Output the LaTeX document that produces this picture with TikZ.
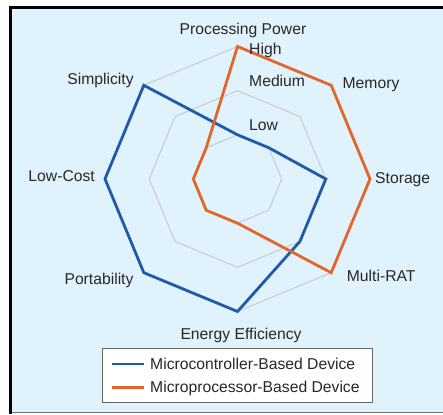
\documentclass[tikz,border=0pt]{standalone}
\usepackage{fontspec}
\setmainfont{Liberation Sans}
\definecolor{bgblue}{RGB}{224,242,252}
\definecolor{mcblue}{RGB}{31,90,166}
\definecolor{mporange}{RGB}{226,101,43}
\definecolor{gridgray}{RGB}{200,203,206}
\definecolor{txt}{RGB}{40,40,40}
\begin{document}
\begin{tikzpicture}[x=1pt,y=1pt,
  lab/.style={font=\fontsize{15.7}{18}\selectfont, text=txt, inner sep=0pt},
  gridline/.style={draw=gridgray, line width=1pt},
  mcline/.style={draw=mcblue, line width=2.8pt, line join=miter},
  mpline/.style={draw=mporange, line width=2.8pt, line join=miter},
  legendframe/.style={draw=black!60, line width=0.8pt, fill=white, inner sep=0pt}]
\useasboundingbox (0,0) rectangle (443,414);
\fill[white] (0,0) rectangle (443,414);
\fill[bgblue] (12,2) rectangle (443,405);
\fill[black] (9,405) rectangle (443,408);
\fill[black] (9,0) rectangle (12,408);
\draw[black!55, line width=0.8pt] (12,2) -- (443,2);

\begin{scope}[shift={(237.5,235)}]
  \foreach \r in {44.2,88.3,132.5}
    \draw[gridline] (90:\r)--(45:\r)--(0:\r)--(-45:\r)--(-90:\r)--(-135:\r)--(180:\r)--(135:\r)--cycle;
  \coordinate (b1) at (90:44.2);
  \coordinate (b2) at (45:44.2);
  \coordinate (b3) at (0:88.3);
  \coordinate (b4) at (-45:88.3);
  \coordinate (b5) at (-90:132.5);
  \coordinate (b6) at (-135:132.5);
  \coordinate (b7) at (180:132.5);
  \coordinate (b8) at (135:132.5);
  \coordinate (o1) at (90:132.5);
  \coordinate (o2) at (45:132.5);
  \coordinate (o3) at (0:132.5);
  \coordinate (o4) at (-45:132.5);
  \coordinate (o5) at (-90:44.2);
  \coordinate (o6) at (-135:44.2);
  \coordinate (o7) at (180:44.2);
  \coordinate (o8) at (135:44.2);
\end{scope}
\draw[mcline] (b1)--(b2)--(b3)--(b4)--(b5)--(b6)--(b7)--(b8)--cycle;
\draw[mpline] (o1)--(o2)--(o3)--(o4)--(o5)--(o6)--(o7)--(o8)--cycle;

\node[lab, anchor=base] (pp) at (243,379.5) {Processing Power};
\node[lab, anchor=base west] (high) at (249,359) {High};
\node[lab, anchor=base west] (med) at (249,327.3) {Medium};
\node[lab, anchor=base west] (low) at (249,283) {Low};
\node[lab, anchor=base] (simp) at (100.5,329) {Simplicity};
\node[lab, anchor=base] (mem) at (371,325.7) {Memory};
\node[lab, anchor=base west] (stor) at (375,230.7) {Storage};
\node[lab, anchor=base east] (lc) at (95,232) {Low-Cost};
\node[lab, anchor=base west] (mrat) at (346.7,132.5) {Multi-RAT};
\node[lab, anchor=base] (port) at (99,129) {Portability};
\node[lab, anchor=base] (ee) at (241,74.7) {Energy Efficiency};

\node[legendframe, minimum width=270pt, minimum height=54.4pt] (legend) at (237,38.5) {};
\coordinate (l1a) at (111.7,50);
\coordinate (l1b) at (144,50);
\coordinate (l2a) at (111.7,26.7);
\coordinate (l2b) at (144,26.7);
\draw[mcline] (l1a) -- (l1b);
\draw[mpline] (l2a) -- (l2b);
\node[lab, anchor=base west] (leg1) at (150,44.7) {Microcontroller-Based Device};
\node[lab, anchor=base west] (leg2) at (150,21.7) {Microprocessor-Based Device};
\end{tikzpicture}
\end{document}
